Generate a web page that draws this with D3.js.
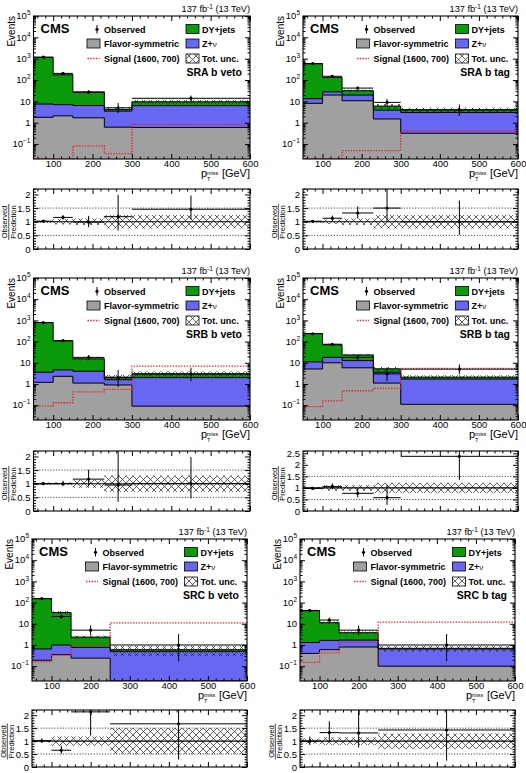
<!DOCTYPE html>
<html>
<head>
<meta charset="utf-8"/>
<script src="https://d3js.org/d3.v7.min.js" charset="utf-8"></script>
<style>
body { margin: 0; background: #fff; }
svg { font-family: "Liberation Sans", Arial, sans-serif; }
</style>
</head>
<body>
<svg id="svg" width="526" height="773"></svg>
<script>

// ---- data ----
var edgesAB = [50, 100, 150, 230, 300, 600];
var edgesC = [50, 100, 150, 250, 600];
var binEdges = [edgesAB, edgesAB, edgesAB, edgesAB, edgesC, edgesC];
var regionNames = ["SRA b veto", "SRA b tag", "SRB b veto", "SRB b tag", "SRC b veto", "SRC b tag"];

// stack components, bottom to top
var flavorSym = [
  [1.8, 2.1, 1.7, 0.62, 0.6],
  [8.1, 19.8, 10.7, 1.5, 0.32],
  [1.2, 2.3, 1.1, 0.9, 0.09],
  [5.1, 10, 5.8, 1.1, 0.11],
  [0.19, 0.35, 0.24, 0.01],
  [0.4, 0.6, 0.8, 0.1]
];
var zNu = [
  [5.7, 4.9, 4.7, 2.9, 5.7],
  [5.2, 8.2, 9.1, 2.4, 2.7],
  [2.4, 2.3, 2.9, 0.7, 1.9],
  [5.9, 8, 6.9, 2.5, 1.6],
  [0.46, 0.65, 0.53, 0.49],
  [0.9, 1.05, 0.9, 0.55]
];
var dyJets = [
  [1150, 170, 21, 0.7, 3.3],
  [567, 105, 12, 2.1, 1.0],
  [786, 105, 11.4, 0.5, 1.0],
  [229, 53, 10.8, 1.6, 0.4],
  [152.3, 33, 1.58, 0.1],
  [40.7, 9.65, 2.1, 0.05]
];
var observed = [
  [1180, 205, 27, 5, 14],
  [590, 150, 42, 9, 4],
  [790, 110, 18, 2, 3],
  [235, 75, 18, 3, 5],
  [155, 22, 5, 1],
  [42, 15, 5, 1]
];
var signal = [
  [0.01, 0.01, 0.083, 0.036, 0.83],
  [0.01, 0.01, 0.049, 0.049, 0.41],
  [0.09, 0.13, 0.42, 0.56, 6.9],
  [0.085, 0.16, 0.48, 0.62, 5.5],
  [0.16, 0.33, 1.05, 11],
  [0.15, 0.42, 1.35, 12]
];
// relative total uncertainty per bin
var totUnc = [
  [0.04, 0.1, 0.12, 0.25, 0.25],
  [0.04, 0.08, 0.12, 0.25, 0.25],
  [0.04, 0.05, 0.15, 0.3, 0.3],
  [0.05, 0.12, 0.12, 0.22, 0.22],
  [0.05, 0.18, 0.18, 0.5],
  [0.1, 0.15, 0.15, 0.3]
];
var ratioMax = [2.2, 2.2, 2.2, 2.6, 2.2, 2.2];
var yTickVals = [0.1, 1, 10, 100, 1000, 10000, 100000];
var xTickVals = [100, 200, 300, 400, 500, 600];

// ---- layout ----
var layout = [
  {x0: 33.5, x1: 250, m: [16, 159], r: [189, 249]},
  {x0: 303, x1: 518, m: [16, 159], r: [189, 249]},
  {x0: 33.5, x1: 250, m: [278, 420], r: [451, 511]},
  {x0: 303, x1: 518, m: [278, 420], r: [451, 511]},
  {x0: 32, x1: 247, m: [539, 681], r: [710, 767]},
  {x0: 300, x1: 515, m: [539, 681], r: [710, 767]}
];

var colGreen = "#0a9a0a", colBlue = "#6767f2", colGray = "#a0a0a0", colRed = "#e8202a";

var svg = d3.select("#svg");
var defs = svg.append("defs");
var pat = defs.append("pattern").attr("id", "hatch")
    .attr("patternUnits", "userSpaceOnUse").attr("width", 7).attr("height", 7);
pat.append("path").attr("d", "M0,0L7,7M7,0L0,7")
    .attr("stroke", "#222").attr("stroke-width", 0.7).attr("fill", "none");

// Poisson (Garwood) 68% interval, approximate
function poisLo(n) { if (n == 0) return 0; return n * Math.pow(1 - 1/(9*n) - 1/(3*Math.sqrt(n)), 3); }
function poisHi(n) { var m = n + 1; return m * Math.pow(1 - 1/(9*m) + 1/(3*Math.sqrt(m)), 3); }

function stepPts(edges, vals) {
  var pts = [];
  vals.forEach(function(v, i) { pts.push([edges[i], v]); pts.push([edges[i+1], v]); });
  return pts;
}

function minorLog() {
  var out = [];
  for (var e = -2; e < 5; e++) for (var k = 2; k < 10; k++) {
    var v = k * Math.pow(10, e);
    if (v > 0.02 && v < 1e5) out.push(v);
  }
  return out;
}
var xMinor = d3.range(60, 600, 20).filter(function(d){ return d % 100 != 0; });

function drawPanel(p) {
  var L = layout[p];
  var edges = binEdges[p];
  var g = svg.append("g");
  var x = d3.scaleLinear().domain([50, 600]).range([L.x0, L.x1]);
  var y = d3.scaleLog().domain([0.02, 1e5]).range([L.m[1], L.m[0]]).clamp(true);

  defs.append("clipPath").attr("id", "cm" + p).append("rect")
    .attr("x", L.x0).attr("y", L.m[0]).attr("width", L.x1 - L.x0).attr("height", L.m[1] - L.m[0]);
  var pg = g.append("g").attr("clip-path", "url(#cm" + p + ")");

  var fs = flavorSym[p];
  var t2 = fs.map(function(v, i) { return v + zNu[p][i]; });
  var t3 = t2.map(function(v, i) { return v + dyJets[p][i]; });

  var area = d3.area().x(function(d){ return x(d[0]); }).y0(L.m[1]).y1(function(d){ return y(d[1]); });
  var line = d3.line().x(function(d){ return x(d[0]); }).y(function(d){ return y(d[1]); });

  [[t3, colGreen], [t2, colBlue], [fs, colGray]].forEach(function(s) {
    pg.append("path").attr("d", area(stepPts(edges, s[0]))).attr("fill", s[1]);
  });
  [t3, t2, fs].forEach(function(s) {
    pg.append("path").attr("d", line(stepPts(edges, s))).attr("fill", "none")
      .attr("stroke", "#000").attr("stroke-width", 1);
  });

  // uncertainty band
  pg.selectAll(".unc").data(t3).enter().append("rect")
    .attr("x", function(d, i){ return x(edges[i]); })
    .attr("width", function(d, i){ return x(edges[i+1]) - x(edges[i]); })
    .attr("y", function(d, i){ return y(d * (1 + totUnc[p][i])); })
    .attr("height", function(d, i){ return y(d * (1 - totUnc[p][i])) - y(d * (1 + totUnc[p][i])); })
    .attr("fill", "url(#hatch)");

  // signal
  pg.append("path").attr("d", line(stepPts(edges, signal[p]))).attr("fill", "none")
    .attr("stroke", colRed).attr("stroke-width", 1.3).attr("stroke-dasharray", "1.4,1.4");

  // observed
  var obs = observed[p];
  obs.forEach(function(n, i) {
    var cx = x((edges[i] + edges[i+1]) / 2);
    pg.append("line").attr("x1", cx).attr("x2", cx).attr("y1", y(poisLo(n))).attr("y2", y(poisHi(n)))
      .attr("stroke", "#000").attr("stroke-width", 1);
    pg.append("line").attr("x1", x(edges[i])).attr("x2", x(edges[i+1])).attr("y1", y(n)).attr("y2", y(n))
      .attr("stroke", "#000").attr("stroke-width", 1);
    pg.append("circle").attr("cx", cx).attr("cy", y(n)).attr("r", 1.6).attr("fill", "#000");
  });

  // axes
  var ax = g.append("g").attr("class", "axes");
  ax.append("g").attr("transform", "translate(" + L.x0 + ",0)")
    .call(d3.axisLeft(y).tickValues(yTickVals).tickSize(-5).tickSizeOuter(0).tickFormat(""));
  ax.append("g").attr("transform", "translate(" + L.x0 + ",0)")
    .call(d3.axisLeft(y).tickValues(minorLog()).tickSize(-2.5).tickSizeOuter(0).tickFormat(""));
  ax.append("g").attr("transform", "translate(" + L.x1 + ",0)")
    .call(d3.axisRight(y).tickValues(yTickVals).tickSize(-5).tickSizeOuter(0).tickFormat(""));
  ax.append("g").attr("transform", "translate(" + L.x1 + ",0)")
    .call(d3.axisRight(y).tickValues(minorLog()).tickSize(-2.5).tickSizeOuter(0).tickFormat(""));
  ax.append("g").attr("transform", "translate(0," + L.m[1] + ")")
    .call(d3.axisBottom(x).tickValues(xTickVals).tickSize(-5).tickSizeOuter(0).tickPadding(0.9))
    .selectAll("text").style("font-size", "9.5px");
  ax.append("g").attr("transform", "translate(0," + L.m[1] + ")")
    .call(d3.axisBottom(x).tickValues(xMinor).tickSize(-2.5).tickSizeOuter(0).tickFormat(""));
  ax.append("g").attr("transform", "translate(0," + L.m[0] + ")")
    .call(d3.axisTop(x).tickValues(xTickVals).tickSize(-5).tickSizeOuter(0).tickFormat(""));
  ax.append("g").attr("transform", "translate(0," + L.m[0] + ")")
    .call(d3.axisTop(x).tickValues(xMinor).tickSize(-2.5).tickSizeOuter(0).tickFormat(""));
  ax.selectAll(".domain").remove();
  ax.selectAll("text").attr("fill", "#000").style("font-family", "Liberation Sans, Arial, sans-serif");

  // y labels with exponents
  yTickVals.forEach(function(v) {
    var e = Math.round(Math.log10(v));
    var t = g.append("text").attr("x", L.x0 - 3).attr("y", y(v) + 3.3)
      .attr("text-anchor", "end").style("font-size", "9.5px");
    if (e == 0) t.text("1");
    else if (e == 1) t.text("10");
    else {
      t.append("tspan").text("10");
      t.append("tspan").attr("dy", -4).style("font-size", "6.5px").text(e < 0 ? "\u2212" + (-e) : e);
    }
  });

  g.append("rect").attr("x", L.x0).attr("y", L.m[0]).attr("width", L.x1 - L.x0)
    .attr("height", L.m[1] - L.m[0]).attr("fill", "none").attr("stroke", "#000").attr("stroke-width", 1.1);

  // axis titles
  g.append("text").attr("transform", "translate(" + (L.x0 - 19) + "," + L.m[0] + ") rotate(-90)")
    .attr("text-anchor", "end").style("font-size", "10px").text("Events");
  var xb = L.m[1] + 18;
  g.append("text").attr("x", L.x1).attr("y", xb).attr("text-anchor", "end")
    .style("font-size", "11px").text("[GeV]");
  g.append("text").attr("x", L.x1 - 49).attr("y", xb).style("font-size", "11px").text("p");
  g.append("text").attr("x", L.x1 - 43).attr("y", xb - 2.1).style("font-size", "5.5px").text("miss");
  g.append("text").attr("x", L.x1 - 43).attr("y", xb + 4.1).style("font-size", "5.5px").text("T");

  var lumi = g.append("text").attr("x", L.x1).attr("y", L.m[0] - 4).attr("text-anchor", "end")
    .style("font-size", "9.2px");
  lumi.append("tspan").text("137 fb");
  lumi.append("tspan").attr("dy", -3.5).style("font-size", "6.5px").text("-1");
  lumi.append("tspan").attr("dy", 3.5).text(" (13 TeV)");

  // legend
  var lx = L.x0, ly = L.m[0];
  var lg = g.append("g").style("font-size", "9px").style("font-weight", "bold");
  lg.append("text").attr("x", lx + 7).attr("y", ly + 16.5).style("font-size", "13px").text("CMS");
  lg.append("line").attr("x1", lx + 63.5).attr("x2", lx + 63.5).attr("y1", ly + 9).attr("y2", ly + 17.5)
    .attr("stroke", "#000");
  lg.append("circle").attr("cx", lx + 63.5).attr("cy", ly + 13.3).attr("r", 1.6);
  lg.append("text").attr("x", lx + 70.5).attr("y", ly + 16.5).text("Observed");
  lg.append("rect").attr("x", lx + 53.5).attr("y", ly + 23).attr("width", 13).attr("height", 9)
    .attr("fill", colGray).attr("stroke", "#000").attr("stroke-width", 0.8);
  lg.append("text").attr("x", lx + 70.5).attr("y", ly + 31).text("Flavor-symmetric");
  lg.append("line").attr("x1", lx + 54).attr("x2", lx + 66).attr("y1", ly + 42.5).attr("y2", ly + 42.5)
    .attr("stroke", colRed).attr("stroke-width", 1.3).attr("stroke-dasharray", "1.4,1.4");
  lg.append("text").attr("x", lx + 70.5).attr("y", ly + 46).text("Signal (1600, 700)");
  lg.append("rect").attr("x", lx + 152.5).attr("y", ly + 8.5).attr("width", 13).attr("height", 9)
    .attr("fill", colGreen).attr("stroke", "#000").attr("stroke-width", 0.8);
  lg.append("text").attr("x", lx + 168.5).attr("y", ly + 16.5).text("DY+jets");
  lg.append("rect").attr("x", lx + 152.5).attr("y", ly + 23).attr("width", 13).attr("height", 9)
    .attr("fill", colBlue).attr("stroke", "#000").attr("stroke-width", 0.8);
  var zt = lg.append("text").attr("x", lx + 168.5).attr("y", ly + 31);
  zt.append("tspan").text("Z+");
  zt.append("tspan").style("font-weight", "normal").style("font-size", "8px").text("\u03bd");
  lg.append("rect").attr("x", lx + 152.5).attr("y", ly + 38).attr("width", 13).attr("height", 9)
    .attr("fill", "url(#hatch)").attr("stroke", "#000").attr("stroke-width", 0.8);
  lg.append("text").attr("x", lx + 168.5).attr("y", ly + 46).text("Tot. unc.");
  lg.append("text").attr("x", L.x1 - 8).attr("y", ly + 60).attr("text-anchor", "end")
    .style("font-size", "10.5px").text(regionNames[p]);

  // ---- ratio panel ----
  var yr = d3.scaleLinear().domain([0, ratioMax[p]]).range([L.r[1], L.r[0]]);
  defs.append("clipPath").attr("id", "cr" + p).append("rect")
    .attr("x", L.x0).attr("y", L.r[0]).attr("width", L.x1 - L.x0).attr("height", L.r[1] - L.r[0]);
  var rg = g.append("g").attr("clip-path", "url(#cr" + p + ")");

  rg.selectAll(".runc").data(totUnc[p]).enter().append("rect")
    .attr("x", function(d, i){ return x(edges[i]); })
    .attr("width", function(d, i){ return x(edges[i+1]) - x(edges[i]); })
    .attr("y", function(d){ return yr(1 + d); })
    .attr("height", function(d){ return yr(1 - d) - yr(1 + d); })
    .attr("fill", "url(#hatch)");
  [0.5, 1.5].forEach(function(v) {
    rg.append("line").attr("x1", L.x0).attr("x2", L.x1).attr("y1", yr(v)).attr("y2", yr(v))
      .attr("stroke", "#333").attr("stroke-width", 0.9).attr("stroke-dasharray", "1.2,1.6");
  });
  rg.append("line").attr("x1", L.x0).attr("x2", L.x1).attr("y1", yr(1)).attr("y2", yr(1))
    .attr("stroke", "#000").attr("stroke-width", 1.2);

  obs.forEach(function(n, i) {
    var pred = t3[i];
    var cx = x((edges[i] + edges[i+1]) / 2);
    rg.append("line").attr("x1", cx).attr("x2", cx).attr("y1", yr(poisLo(n) / pred)).attr("y2", yr(poisHi(n) / pred))
      .attr("stroke", "#000").attr("stroke-width", 1);
    rg.append("line").attr("x1", x(edges[i])).attr("x2", x(edges[i+1])).attr("y1", yr(n / pred)).attr("y2", yr(n / pred))
      .attr("stroke", "#000").attr("stroke-width", 1);
    rg.append("circle").attr("cx", cx).attr("cy", yr(n / pred)).attr("r", 1.6).attr("fill", "#000");
  });

  var rMajor = d3.range(0, ratioMax[p] + 0.001, 0.5);
  var rMinor = d3.range(0, ratioMax[p] + 0.001, 0.1).filter(function(d){ return Math.abs(d * 2 - Math.round(d * 2)) > 0.01; });
  var rax = g.append("g");
  rax.append("g").attr("transform", "translate(" + L.x0 + ",0)")
    .call(d3.axisLeft(yr).tickValues(rMajor).tickSize(-5).tickSizeOuter(0).tickPadding(3).tickFormat(function(d){ return String(+d.toFixed(1)); }))
    .selectAll("text").style("font-size", "9.5px");
  rax.append("g").attr("transform", "translate(" + L.x0 + ",0)")
    .call(d3.axisLeft(yr).tickValues(rMinor).tickSize(-2.5).tickSizeOuter(0).tickFormat(""));
  rax.append("g").attr("transform", "translate(" + L.x1 + ",0)")
    .call(d3.axisRight(yr).tickValues(rMajor).tickSize(-5).tickSizeOuter(0).tickFormat(""));
  rax.append("g").attr("transform", "translate(" + L.x1 + ",0)")
    .call(d3.axisRight(yr).tickValues(rMinor).tickSize(-2.5).tickSizeOuter(0).tickFormat(""));
  rax.append("g").attr("transform", "translate(0," + L.r[1] + ")")
    .call(d3.axisBottom(x).tickValues(xTickVals).tickSize(-5).tickSizeOuter(0).tickFormat(""));
  rax.append("g").attr("transform", "translate(0," + L.r[1] + ")")
    .call(d3.axisBottom(x).tickValues(xMinor).tickSize(-2.5).tickSizeOuter(0).tickFormat(""));
  rax.append("g").attr("transform", "translate(0," + L.r[0] + ")")
    .call(d3.axisTop(x).tickValues(xTickVals).tickSize(-5).tickSizeOuter(0).tickFormat(""));
  rax.append("g").attr("transform", "translate(0," + L.r[0] + ")")
    .call(d3.axisTop(x).tickValues(xMinor).tickSize(-2.5).tickSizeOuter(0).tickFormat(""));
  rax.selectAll(".domain").remove();
  rax.selectAll("text").attr("fill", "#000").style("font-family", "Liberation Sans, Arial, sans-serif");

  g.append("rect").attr("x", L.x0).attr("y", L.r[0]).attr("width", L.x1 - L.x0)
    .attr("height", L.r[1] - L.r[0]).attr("fill", "none").attr("stroke", "#000").attr("stroke-width", 1.1);

  var rc = (L.r[0] + L.r[1]) / 2 + 3;
  g.append("text").attr("transform", "translate(" + (L.x0 - 26.5) + "," + rc + ") rotate(-90)")
    .attr("text-anchor", "middle").style("font-size", "7.5px").text("Observed");
  g.append("line").attr("x1", L.x0 - 24.7).attr("x2", L.x0 - 24.7).attr("y1", rc - 18).attr("y2", rc + 18)
    .attr("stroke", "#000").attr("stroke-width", 0.7);
  g.append("text").attr("transform", "translate(" + (L.x0 - 17.8) + "," + rc + ") rotate(-90)")
    .attr("text-anchor", "middle").style("font-size", "7.5px").text("Prediction");
}

for (var p = 0; p < 6; p++) drawPanel(p);

</script>
</body>
</html>
